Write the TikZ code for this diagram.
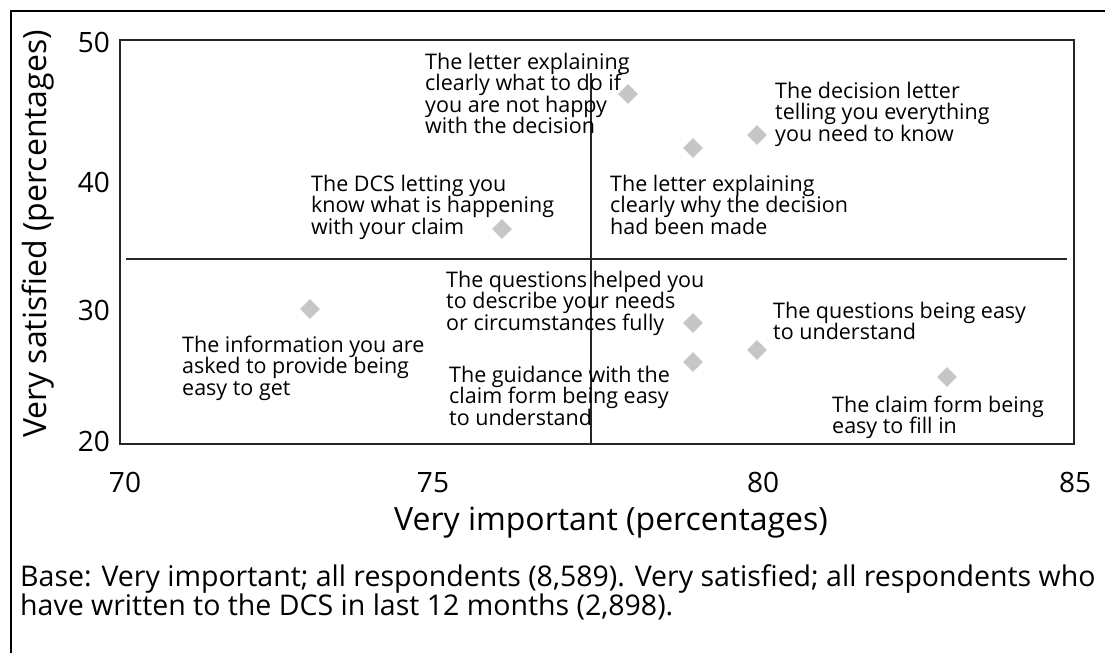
\documentclass[tikz,border=0pt]{standalone}
\usepackage{fontspec}
\setmainfont{Open Sans}
\usetikzlibrary{shapes.geometric}
\definecolor{diam}{RGB}{198,198,200}
\newcommand\stk[1]{\vtop{\lineskiplimit=-100pt\lineskip=0pt\halign{##\hfil\cr#1\crcr}}}
\begin{document}
\begin{tikzpicture}[x=1pt,y=-1pt,
  lbl/.style={anchor=base west,inner sep=0pt,font=\fontsize{21.5}{21.6}\selectfont},
  ticklbl/.style={inner sep=0pt,font=\fontsize{28}{28}\selectfont},
  axislbl/.style={inner sep=0pt,font=\fontsize{32}{32}\selectfont},
  basetxt/.style={anchor=base west,inner sep=0pt,font=\fontsize{28.5}{29.5}\selectfont},
  pnt/.style={diamond,fill=diam,inner sep=0pt,minimum width=20pt,minimum height=20pt},
  frame/.style={line width=2pt,black},
  plotline/.style={line width=1.1pt,black!85}
]
\useasboundingbox (0,0) rectangle (1105,653);
% outer frame (top and left only)
\coordinate (fb) at (11,653);
\coordinate (fc) at (11,11);
\coordinate (fr) at (1105,11);
\draw[frame] (fb) -- (fc) -- (fr);
% plot box
\coordinate (pa) at (120,40);
\coordinate (pb) at (1074,444);
\draw[plotline] (pa) rectangle (pb);
% quadrant lines
\coordinate (hl) at (126,259);
\coordinate (hr) at (1067,259);
\coordinate (vt) at (591,73);
\coordinate (vb) at (591,444);
\draw[plotline] (hl) -- (hr);
\draw[plotline] (vt) -- (vb);
% tick labels
\node[ticklbl,anchor=east] (y50) at (110,42) {50};
\node[ticklbl,anchor=east] (y40) at (110,182) {40};
\node[ticklbl,anchor=east] (y30) at (110,310) {30};
\node[ticklbl,anchor=east] (y20) at (110,441) {20};
\node[ticklbl] (x70) at (125,482.5) {70};
\node[ticklbl] (x75) at (433,482.5) {75};
\node[ticklbl] (x80) at (763,482.5) {80};
\node[ticklbl] (x85) at (1075,482.5) {85};
% axis labels
\node[axislbl,rotate=90] (ylab) at (38,234) {Very satisfied (percentages)};
\node[axislbl] (xlab) at (611,523) {Very important (percentages)};
% points
\node[pnt] (d1) at (628,94) {};
\node[pnt] (d2) at (693,148) {};
\node[pnt] (d3) at (757,135) {};
\node[pnt] (d4) at (502,229) {};
\node[pnt] (d5) at (310,309) {};
\node[pnt] (d6) at (693,323) {};
\node[pnt] (d7) at (693,362) {};
\node[pnt] (d8) at (757,350) {};
\node[pnt] (d9) at (947,377) {};
% point labels
\node[lbl] (tA) at (425,69) {\stk{The letter explaining\cr clearly what to do if\cr you are not happy\cr with the decision}};
\node[lbl] (tB) at (775,98) {\stk{The decision letter\cr telling you everything\cr you need to know}};
\node[lbl] (tC) at (610,191) {\stk{The letter explaining\cr clearly why the decision\cr had been made}};
\node[lbl] (tD) at (311,191) {\stk{The DCS letting you\cr know what is happening\cr with your claim}};
\node[lbl] (tE) at (446,287) {\stk{The questions helped you\cr to describe your needs\cr or circumstances fully}};
\node[lbl] (tF) at (182,352) {\stk{The information you are\cr asked to provide being\cr easy to get}};
\node[lbl] (tG) at (449,382) {\stk{The guidance with the\cr claim form being easy\cr to understand}};
\node[lbl] (tH) at (773,318) {\stk{The questions being easy\cr to understand}};
\node[lbl] (tI) at (832,412) {\stk{The claim form being\cr easy to fill in}};
% base note
\node[basetxt] (base) at (20,586) {\stk{Base: Very important; all respondents (8,589). Very satisfied; all respondents who\cr have written to the DCS in last 12 months (2,898).}};
\end{tikzpicture}
\end{document}
